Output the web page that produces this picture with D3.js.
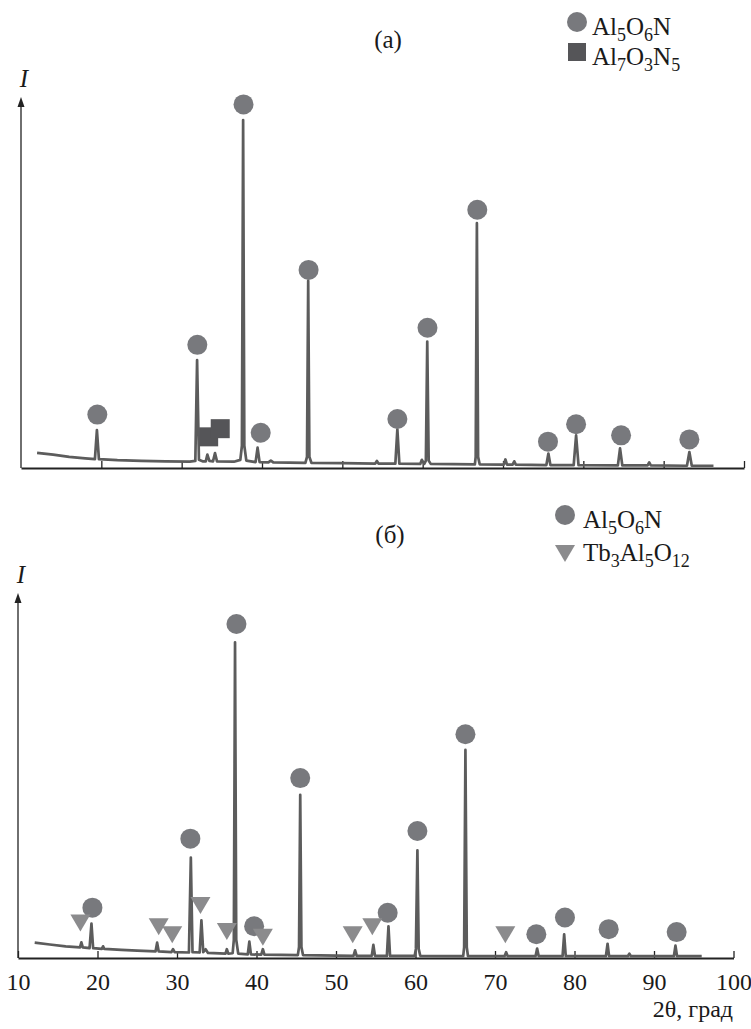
<!DOCTYPE html>
<html>
<head>
<meta charset="utf-8">
<script src="https://cdn.jsdelivr.net/npm/d3@7"></script>
<style>
  body { margin: 0; background: #fff; }
  svg text { font-family: "Liberation Serif", "Times New Roman", serif; fill: #1a1a1a; }
</style>
</head>
<body>
<div id="chart"></div>
<script>
// ===== data (2θ in degrees, I in % of axis height) =====
const tickValues = [10, 20, 30, 40, 50, 60, 70, 80, 90, 100];

// panel (a)
const traceA = [
  [12.0,4.1],[14,3.6],[16,3.0],[18,2.6],
  [19.2,2.4],[19.45,10.2],[19.7,2.4],
  [22,2.1],[25,1.9],[28,1.8],[31.0,1.7],
  [31.7,1.9],[31.92,29.1],[32.15,2.2],
  [32.6,1.8],[33.0,1.8],[33.2,3.6],[33.45,1.9],[33.9,1.8],[34.15,4.0],[34.4,1.8],
  [36.5,1.7],[37.3,2.2],[37.5,6],[37.65,93.8],[37.8,6],[38.05,2.0],
  [39.2,1.6],[39.45,5.5],[39.7,1.6],
  [40.8,1.5],[41.1,2.0],[41.4,1.5],
  [45.4,1.4],[45.6,3],[45.75,50.5],[45.9,3],[46.15,1.4],
  [50,1.3],[54.1,1.2],[54.3,1.9],[54.5,1.2],
  [56.6,1.2],[56.85,10.4],[57.1,1.2],
  [59.7,1.1],[59.9,2.2],[60.2,1.1],[60.4,2],[60.57,34.1],[60.75,2],[61,1.1],
  [66.5,1.0],[66.6,3],[66.75,66.0],[66.9,3],[67.1,1.0],
  [70.1,0.9],[70.3,2.3],[70.5,0.9],[71.2,0.9],[71.4,1.8],[71.6,0.9],
  [75.4,0.8],[75.65,3.9],[75.9,0.8],
  [78.8,0.8],[79.1,8.8],[79.4,0.8],
  [84.3,0.7],[84.57,5.3],[84.85,0.7],
  [88,0.7],[88.2,1.5],[88.4,0.7],
  [92.9,0.6],[93.2,4.3],[93.5,0.6],
  [96.2,0.6]
];
const circlesA = [
  [19.5,14.4],[31.95,33.2],[37.7,98.0],[39.84,9.5],[45.8,53.4],[56.85,13.2],
  [60.6,37.8],[66.8,69.6],[75.6,7.1],[79.1,11.8],[84.7,8.8],[93.2,7.7]
];
const squaresA = [[33.36,8.4],[34.8,10.6]];

// panel (б)
const traceB = [
  [12.1,4.2],[14,3.7],[16,3.2],[17.8,2.9],[17.97,4.3],[18.15,2.9],
  [19.0,2.7],[19.24,9.4],[19.45,2.7],
  [20.55,2.5],[20.7,3.2],[20.85,2.5],
  [23,2.2],[25,2.0],[27.3,1.8],[27.5,4.2],[27.7,1.8],
  [29.3,1.6],[29.5,2.4],[29.7,1.6],
  [31.5,1.5],[31.74,27.5],[31.95,1.6],
  [32.85,1.5],[33.07,10.3],[33.3,1.6],[33.6,2.4],[33.9,1.4],
  [36.1,1.2],[36.27,2.4],[36.45,1.2],
  [37.0,1.3],[37.15,5],[37.3,86.5],[37.45,5],[37.7,1.2],
  [38.9,1.0],[39.1,4.5],[39.3,1.0],
  [40.6,0.9],[40.8,2.4],[41.0,0.9],
  [45.2,0.8],[45.35,3],[45.5,44.7],[45.65,3],[45.85,0.8],
  [52.2,0.6],[52.4,2.1],[52.6,0.6],
  [54.5,0.6],[54.7,3.6],[54.9,0.6],
  [56.4,0.6],[56.6,8.7],[56.8,0.6],
  [59.9,0.6],[60.05,2.5],[60.24,29.5],[60.4,2.5],[60.6,0.6],
  [66.0,0.5],[66.12,3],[66.28,57.0],[66.45,3],[66.6,0.5],
  [71.2,0.5],[71.4,1.6],[71.6,0.5],
  [75.1,0.5],[75.3,2.6],[75.5,0.5],
  [78.5,0.5],[78.7,6.5],[78.9,0.5],
  [83.95,0.5],[84.16,3.9],[84.35,0.5],
  [86.7,0.5],[86.9,1.2],[87.1,0.5],
  [92.5,0.5],[92.7,3.4],[92.9,0.5],
  [96.0,0.5]
];
const circlesB = [
  [19.36,13.8],[31.68,32.7],[37.48,91.5],[39.7,8.7],[45.5,49.3],[56.5,12.4],
  [60.24,34.8],[66.28,61.3],[75.2,6.5],[78.8,11.1],[84.3,7.9],[92.85,7.1]
];
const trianglesB = [
  [17.85,9.7],[27.7,8.7],[29.4,6.5],[32.95,14.5],[36.27,7.4],[40.8,5.8],
  [52.1,6.5],[54.57,8.7],[71.3,6.5]
];

const phaseA = ["Al5O6N", "Al7O3N5"];
const phaseB = ["Al5O6N", "Tb3Al5O12"];

// ===== drawing =====
const width = 751, height = 1029;
const colTrace = "#5c5c5c", colCircle = "#78797d", colSquare = "#555558", colTri = "#8b8b8d";

const svg = d3.select("#chart").append("svg")
  .attr("width", width).attr("height", height);

// formula with numeric subscripts
function formula(sel, str, size) {
  const parts = str.match(/[A-Za-z]+|\d+/g);
  let sub = false;
  parts.forEach(p => {
    const isNum = /\d/.test(p);
    const t = sel.append("tspan").text(p);
    if (isNum) {
      t.attr("font-size", size * 0.72).attr("dy", sub ? 0 : size * 0.22);
      sub = true;
    } else {
      t.attr("font-size", size).attr("dy", sub ? -size * 0.22 : 0);
      sub = false;
    }
  });
}

function panel(cfg) {
  const x = d3.scaleLinear().domain([10, 100]).range(cfg.xr);
  const y = d3.scaleLinear().domain([0, 100]).range(cfg.yr);
  const g = svg.append("g");

  // x axis
  const ax = d3.axisBottom(x)
    .tickValues(cfg.labels ? tickValues : tickValues.slice(1))
    .tickSize(-7).tickSizeOuter(0).tickPadding(15)
    .tickFormat(cfg.labels ? d3.format("d") : () => "");
  const axg = g.append("g").attr("transform", `translate(0,${y(0)})`).call(ax);
  axg.select(".domain").attr("stroke", "#222").attr("stroke-width", 1.8);
  axg.selectAll(".tick line").attr("stroke", "#222").attr("stroke-width", 1.3);
  axg.selectAll(".tick text").attr("font-size", 24).attr("fill", "#1a1a1a");

  // y axis with arrow
  g.append("line").attr("x1", x(10)).attr("x2", x(10))
    .attr("y1", y(0)).attr("y2", y(100) + 6)
    .attr("stroke", "#222").attr("stroke-width", 1.3);
  g.append("path")
    .attr("d", `M${x(10)},${y(100)} l-3.5,10 l7,0 z`)
    .attr("fill", "#222");
  g.append("text").attr("x", x(10) + 3).attr("y", y(100) - 10)
    .attr("text-anchor", "middle").attr("font-size", 25)
    .attr("font-style", "italic").text("I");

  // spectrum
  const line = d3.line().x(d => x(d[0])).y(d => y(d[1]));
  g.append("path").datum(cfg.trace).attr("d", line)
    .attr("fill", "none").attr("stroke", colTrace)
    .attr("stroke-width", 2.7).attr("stroke-linejoin", "round");

  // markers
  g.selectAll("circle.m").data(cfg.circles).join("circle")
    .attr("cx", d => x(d[0])).attr("cy", d => y(d[1])).attr("r", 10)
    .attr("fill", colCircle);
  if (cfg.squares) {
    g.selectAll("rect.m").data(cfg.squares).join("rect")
      .attr("x", d => x(d[0]) - 9.5).attr("y", d => y(d[1]) - 9.5)
      .attr("width", 19).attr("height", 19).attr("fill", colSquare);
  }
  if (cfg.triangles) {
    g.selectAll("path.tri").data(cfg.triangles).join("path")
      .attr("class", "tri")
      .attr("d", d => `M${x(d[0]) - 10},${y(d[1]) - 8} l20,0 l-10,17 z`)
      .attr("fill", colTri);
  }

  // panel label
  g.append("text").attr("x", cfg.label[1]).attr("y", cfg.label[2])
    .attr("text-anchor", "middle").attr("font-size", 25).text(cfg.label[0]);

  // legend
  const L = cfg.legend;
  g.append("circle").attr("cx", L.x).attr("cy", L.y0 - 13).attr("r", 10).attr("fill", colCircle);
  if (cfg.squares) {
    g.append("rect").attr("x", L.x - 9).attr("y", L.y1 - 22).attr("width", 18).attr("height", 18)
      .attr("fill", colSquare);
  } else {
    g.append("path").attr("d", `M${L.x - 10},${L.y1 - 16} l20,0 l-10,17 z`).attr("fill", colTri);
  }
  formula(g.append("text").attr("x", L.tx).attr("y", L.y0), cfg.phases[0], 25);
  formula(g.append("text").attr("x", L.tx).attr("y", L.y1), cfg.phases[1], 25);
}

panel({
  xr: [21, 744], yr: [468, 97], labels: false,
  trace: traceA, circles: circlesA, squares: squaresA,
  label: ["(a)", 388, 48],
  legend: { x: 577, tx: 592, y0: 35, y1: 65 },
  phases: phaseA
});

panel({
  xr: [18, 733.5], yr: [958, 593], labels: true,
  trace: traceB, circles: circlesB, triangles: trianglesB,
  label: ["(б)", 390, 543],
  legend: { x: 565, tx: 583, y0: 528, y1: 561 },
  phases: phaseB
});

svg.append("text").attr("x", 733).attr("y", 1017)
  .attr("text-anchor", "end").attr("font-size", 24).text("2θ, град");
</script>
</body>
</html>
